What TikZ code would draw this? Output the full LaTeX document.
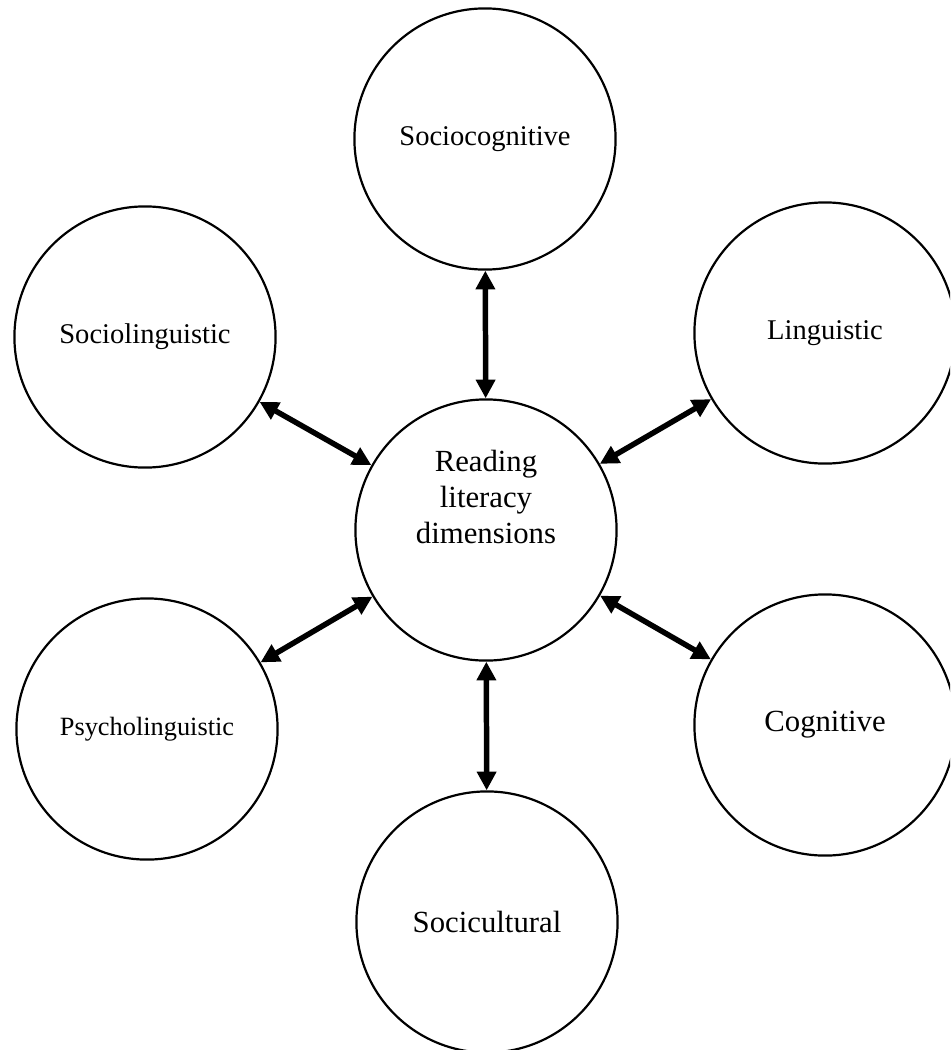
\documentclass[tikz,border=0pt]{standalone}
\usepackage{fontspec}
\setmainfont{Liberation Serif}
\usetikzlibrary{arrows.meta}

\begin{document}
\begin{tikzpicture}
  [x=0.016cm,y=-0.016cm,
   every node/.style={circle,draw,line width=1pt,minimum size=4.18cm,inner sep=0pt,
     font=\fontsize{13}{15.6}\selectfont},
   txt/.style={draw=none,minimum size=0pt,align=center,
     font=\fontsize{14}{16.2}\selectfont},
   link/.style={line width=2.5pt,{Triangle[length=8.5pt,width=8.5pt]}-{Triangle[length=8.5pt,width=8.5pt]}}]
  \clip (0,0) rectangle (950,1050);

  \node (rld) at (486,530) {};
  \node[txt] (rldtext) at (486,497) {Reading\\literacy\\dimensions};

  \node (scog) at (485,139)  {Sociocognitive};
  \node (sling) at (145,337) {Sociolinguistic};
  \node (ling) at (825,333)  {Linguistic};
  \node[font=\fontsize{12}{14.4}\selectfont] (pling) at (147,729) {Psycholinguistic};
  \node[font=\fontsize{14}{16.8}\selectfont] (cog) at (825,725)  {Cognitive};
  \node[font=\fontsize{14}{16.8}\selectfont] (scult) at (487,922) {Socicultural};

  \draw[link] (rld) -- (scog);
  \draw[link] (rld) -- (sling);
  \draw[link] (rld) -- (ling);
  \draw[link] (rld) -- (pling);
  \draw[link] (rld) -- (cog);
  \draw[link] (rld) -- (scult);

\end{tikzpicture}
\end{document}
